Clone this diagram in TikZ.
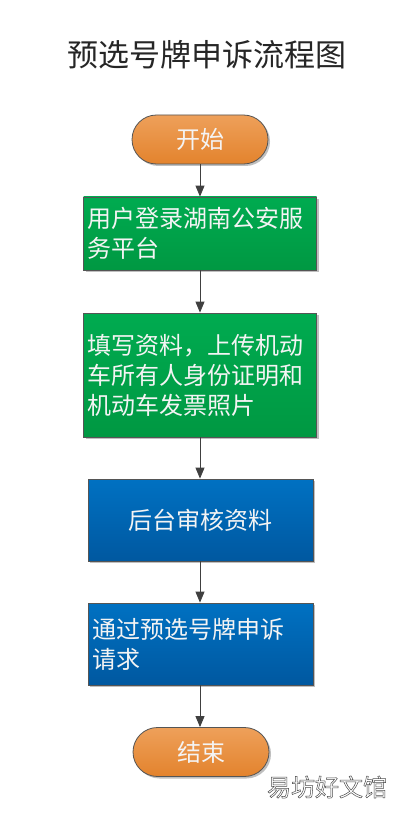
\documentclass[tikz,border=0pt]{standalone}
\usepackage{fontspec}
\setmainfont{Noto Sans CJK SC}
\usetikzlibrary{shapes.misc,arrows.meta,shadows}
\definecolor{ortop}{HTML}{EEA05A}
\definecolor{orbot}{HTML}{E3832D}
\definecolor{grtop}{HTML}{00AB50}
\definecolor{grbot}{HTML}{009842}
\definecolor{bltop}{HTML}{0071C2}
\definecolor{blbot}{HTML}{0058A0}
\definecolor{edge}{HTML}{555555}
\definecolor{conn}{HTML}{404040}
\definecolor{txt}{HTML}{F4F4F4}
\tikzset{
  shade/.style={drop shadow={shadow xshift=2pt,shadow yshift=-2pt,opacity=0.25,fill=black}},
  pill/.style={rounded rectangle,draw=edge,line width=0.8pt,top color=ortop,bottom color=orbot,
    minimum width=136pt,minimum height=49pt,inner sep=0pt,text=txt,
    font=\fontsize{24}{30}\selectfont,shade},
  gbox/.style={rectangle,draw=edge,line width=0.8pt,top color=grtop,bottom color=grbot,
    minimum width=233pt,inner sep=0pt,text=txt,align=left,text width=225pt,
    font=\fontsize{24}{30}\selectfont,shade},
  bbox/.style={rectangle,draw=edge,line width=0.8pt,top color=bltop,bottom color=blbot,
    minimum width=225pt,minimum height=82pt,inner sep=0pt,text=txt,
    font=\fontsize{24}{30}\selectfont,shade},
  conn/.style={draw=conn,line width=0.9pt,-{Triangle[width=9pt,length=11pt]}},
  wmark/.style={font=\fontsize{24}{28}\selectfont,text=white},
}
\begin{document}
\begin{tikzpicture}[x=1pt,y=-1pt]
\useasboundingbox[fill=white] (0,0) rectangle (414,818);
\node[font=\fontsize{31}{36}\selectfont,text=black!85] (title) at (207,55) {预选号牌申诉流程图};
\node[pill] (start) at (200,139.5) {开始};
\node[gbox,minimum height=73pt] (b1) at (200,233.5) {用户登录湖南公安服\\务平台};
\node[gbox,minimum height=124pt] (b2) at (200,375) {填写资料，上传机动\\车所有人身份证明和\\机动车发票照片};
\node[bbox] (b3) at (200.5,520) {后台审核资料};
\node[bbox,align=left,text width=217pt] (b4) at (200.5,644) {通过预选号牌申诉\\请求};
\node[pill] (end) at (201,752) {结束};
\draw[conn] (start.south) -- (b1.north);
\draw[conn] (b1.south) -- (b2.north);
\draw[conn] (b2.south) -- (b3.north -| b2.south);
\draw[conn] (b3.south -| b2.south) -- (b4.north -| b2.south);
\draw[conn] (b4.south -| b2.south) -- (end.north -| b2.south);
\node[wmark] (wm) at (327,787) {\special{pdf:literal 2 Tr 0.5 w 0.3 0.3 0.3 RG 1 g}易坊好文馆\special{pdf:literal 0 Tr}};
\end{tikzpicture}
\end{document}
